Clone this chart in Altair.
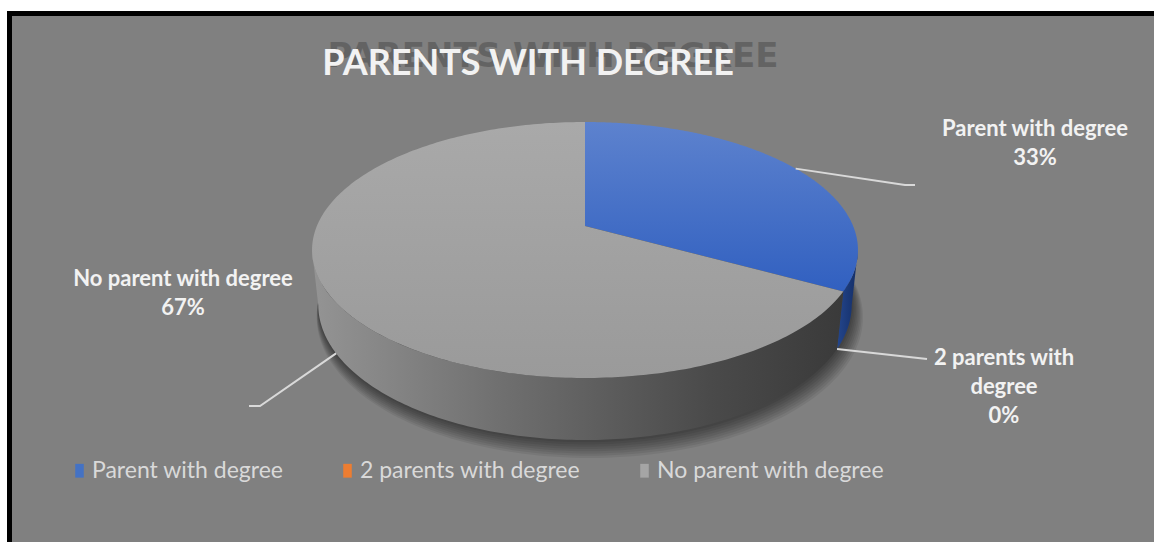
import numpy as np
import pandas as pd
import altair as alt

# ---------------- data ----------------
categories = ["Parent with degree", "2 parents with degree", "No parent with degree"]
values = [33, 0, 67]
legend_colors = ["#4472C4", "#ED7D31", "#A5A5A5"]
title_text = "PARENTS WITH DEGREE"

# ---------------- layout / geometry constants ----------------
W, H = 1154, 542
CX, CY = 585.0, 226.0          # projected pie centre (px)
FOC = 1269.0                   # perspective focal length (px)
SIN_T, COS_T = 0.4606, 0.8876  # camera tilt
DIST = 4.733                   # camera distance (pie radii)
DEPTH = 0.232                  # pie thickness (pie radii)

# label placement (text anchor x, first-line baseline y) and leader elbows
label_pos = {
    "Parent with degree": (1035, 136, [(905, 185), (915, 185)], 0.0),
    "2 parents with degree": (1004, 365, [(927, 359)], -DEPTH),
    "No parent with degree": (183, 286, [(260, 406), (249, 406)], -DEPTH),
}


def proj(theta, z=0.0, r=1.0):
    t = np.radians(theta)
    a = r * np.sin(t)
    b = r * np.cos(t)
    yc = b * SIN_T + z * COS_T
    dep = DIST + b * COS_T - z * SIN_T
    return CX + FOC * a / dep, CY - FOC * yc / dep


X = alt.X("x:Q", scale=alt.Scale(domain=[0, W], nice=False, zero=False), axis=None)
Y = alt.Y("y:Q", scale=alt.Scale(domain=[0, H], reverse=True, nice=False, zero=False), axis=None)


def poly(xs, ys):
    return pd.DataFrame({"x": list(xs), "y": list(ys), "i": list(range(len(xs)))})


def poly_layer(df, fill, fill_opacity=1.0):
    return alt.Chart(df).mark_line(
        fill=fill, fillOpacity=fill_opacity, strokeOpacity=0, strokeWidth=0, interpolate="linear"
    ).encode(x=X, y=Y, order="i:Q")


def vgrad(c0, c1):
    return {"gradient": "linear", "x1": 0, "y1": 0, "x2": 0, "y2": 1,
            "stops": [{"offset": 0, "color": c0}, {"offset": 1, "color": c1}]}


def hgrad(stops):
    return {"gradient": "linear", "x1": 0, "y1": 0, "x2": 1, "y2": 0,
            "stops": [{"offset": o, "color": c} for o, c in stops]}


total = float(sum(values))
starts, ends = [], []
acc = 0.0
for v in values:
    starts.append(360.0 * acc / total)
    acc += v
    ends.append(360.0 * acc / total)

top_fill = {
    "Parent with degree": vgrad("#5D82CE", "#3160C0"),
    "2 parents with degree": vgrad("#F08A45", "#E07020"),
    "No parent with degree": vgrad("#A9A9A9", "#9A9A9A"),
}
wall_fill = {
    "Parent with degree": hgrad([(0, "#24468C"), (1, "#132D66")]),
    "2 parents with degree": hgrad([(0, "#A0521C"), (1, "#7A3C12")]),
    "No parent with degree": hgrad([(0, "#949494"), (0.35, "#707070"), (0.75, "#4A4A4A"), (1, "#3A3A3A")]),
}

layers = []

# background with black frame
bg = alt.Chart(pd.DataFrame({"k": [0]})).mark_rect(
    fill="#808080", stroke="#000000", strokeWidth=5
).encode(x=alt.value(9.5), x2=alt.value(1200), y=alt.value(13.5), y2=alt.value(600))
layers.append(bg)

# soft shadow under the pie
th_full = np.linspace(0, 360, 241)
for k in range(1, 9):
    sx, sy = proj(th_full, z=-DEPTH - 0.006 * k, r=1.0 + 0.0035 * k)
    layers.append(poly_layer(poly(sx + 0.6 * k, sy), "#000000", 0.07))

# walls (front-visible part only)
for cat, t1, t2 in zip(categories, starts, ends):
    if t2 - t1 <= 0:
        continue
    a1, a2 = max(t1, 100.8), min(t2, 259.2)
    if a2 <= a1:
        continue
    th = np.linspace(a1, a2, 160)
    tx, ty = proj(th, 0.0)
    bx, by = proj(th[::-1], -DEPTH)
    layers.append(poly_layer(poly(np.r_[tx, bx], np.r_[ty, by]), wall_fill[cat]))

# top faces
for cat, t1, t2 in zip(categories, starts, ends):
    if t2 - t1 <= 0:
        continue
    th = np.linspace(t1, t2, 240)
    ax, ay = proj(th, 0.0)
    layers.append(poly_layer(poly(np.r_[CX, ax], np.r_[CY, ay]), top_fill[cat]))

# leader lines and data labels
lab_rows = []
for cat, t1, t2, v in zip(categories, starts, ends, values):
    lx, ly, elbows, zanchor = label_pos[cat]
    mid = (t1 + t2) / 2.0
    sx, sy = proj(mid, zanchor)
    pts = [(float(sx), float(sy))] + elbows
    ldf = pd.DataFrame({"x": [p[0] for p in pts], "y": [p[1] for p in pts], "i": list(range(len(pts)))})
    layers.append(alt.Chart(ldf).mark_line(color="#D9D9D9", strokeWidth=2).encode(x=X, y=Y, order="i:Q"))
    pct = f"{round(100 * v / total)}%"
    name = cat if cat != "2 parents with degree" else "2 parents with\ndegree"
    lab_rows.append({"x": lx, "y": ly, "t": name + "\n" + pct})

labels = alt.Chart(pd.DataFrame(lab_rows)).mark_text(
    font="Lato", fontWeight="bold", fontSize=22, color="#F2F2F2", align="center",
    baseline="alphabetic", lineBreak="\n", lineHeight=29
).encode(x=X, y=Y, text="t:N")
layers.append(labels)

# title with its shadow
tdf = pd.DataFrame({"t": [title_text]})
title_shadow = alt.Chart(tdf).mark_text(
    font="DejaVu Sans", fontWeight="bold", fontSize=34, color="#3A3A3A", opacity=0.4,
    align="center", baseline="alphabetic"
).encode(x=alt.value(553), y=alt.value(67), text="t:N")
title = alt.Chart(tdf).mark_text(
    font="Lato", fontWeight="bold", fontSize=36, color="#F2F2F2",
    align="center", baseline="alphabetic"
).encode(x=alt.value(528), y=alt.value(75), text="t:N")
layers += [title_shadow, title]

# legend (driven by the category list)
leg = alt.Chart(pd.DataFrame({"category": categories})).mark_square(opacity=0).encode(
    x=alt.value(0), y=alt.value(0),
    color=alt.Color(
        "category:N",
        scale=alt.Scale(domain=categories, range=legend_colors),
        sort=categories,
        legend=alt.Legend(
            orient="none", legendX=68, legendY=459, direction="horizontal", title=None,
            symbolType="M-0.62,-1L0.62,-1L0.62,1L-0.62,1Z", symbolSize=190,
            symbolStrokeWidth=0, symbolOpacity=1,
            labelFont="Lato", labelFontSize=23, labelColor="#D9D9D9", labelOffset=1,
            labelLimit=0, columnPadding=52,
        ),
    ),
)
layers.append(leg)

chart = alt.layer(*layers).properties(
    width=W, height=H, padding=0, autosize=alt.AutoSizeParams(type="none"), background="#FFFFFF"
).configure_view(strokeWidth=0)

chart.save("out.html", embed_options={"renderer": "svg", "actions": False})
